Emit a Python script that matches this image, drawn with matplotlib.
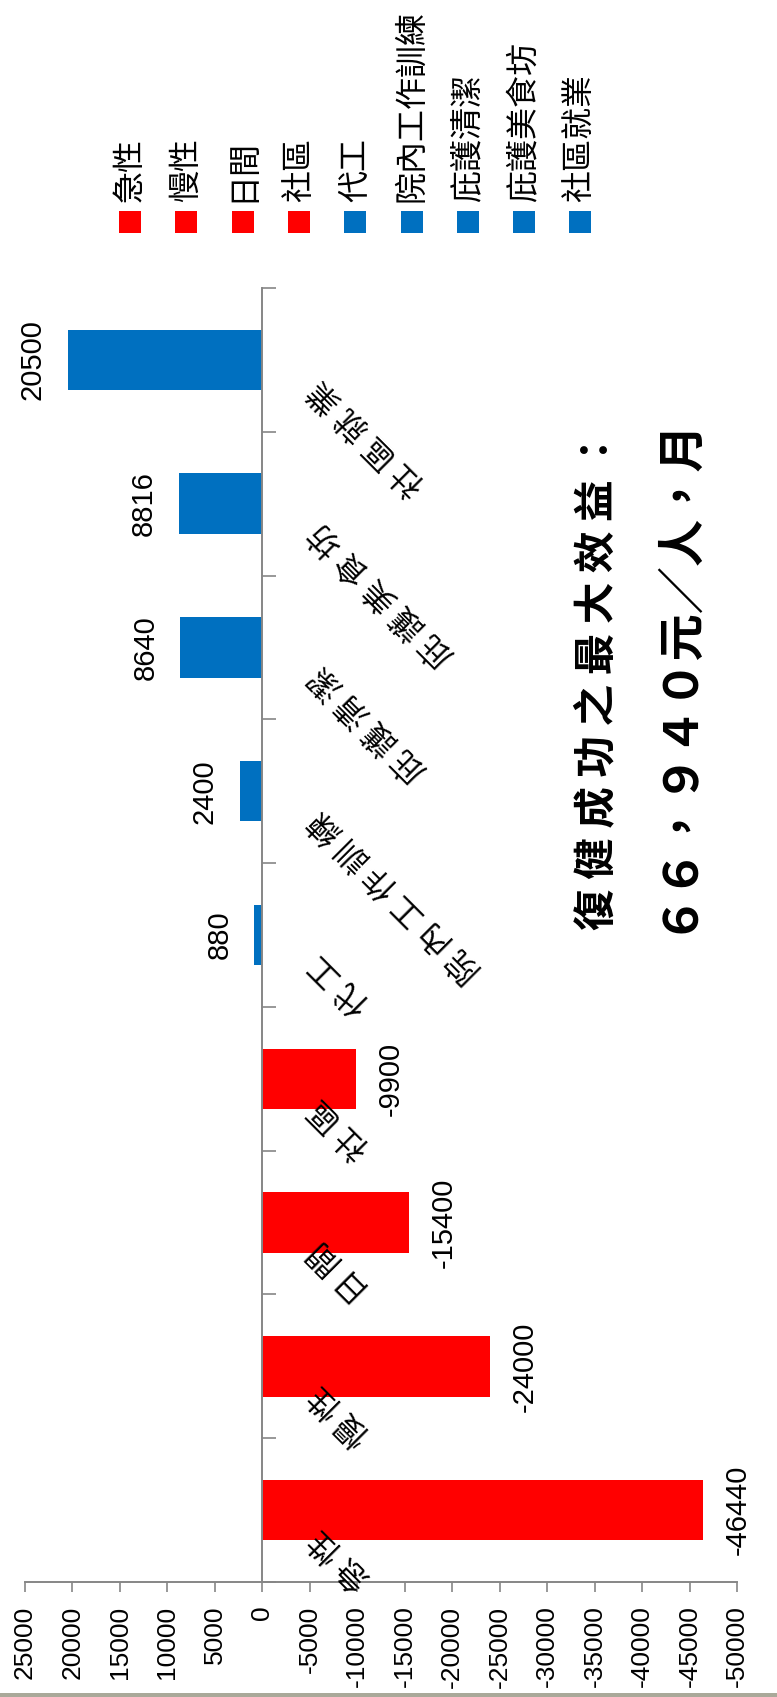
import matplotlib
matplotlib.use('Agg')
import matplotlib.pyplot as plt
from matplotlib.transforms import ScaledTranslation
from matplotlib.patches import Rectangle

# ---------------- data ----------------
categories = ['急性', '慢性', '日間', '社區', '代工',
              '院內工作訓練', '庇護清潔', '庇護美食坊', '社區就業']
values = [-46440, -24000, -15400, -9900, 880, 2400, 8640, 8816, 20500]
value_ticks = [25000, 20000, 15000, 10000, 5000, 0, -5000, -10000, -15000,
               -20000, -25000, -30000, -35000, -40000, -45000, -50000]
title_line1 = '復健成功之最大效益：'
title_line2 = '６６，９４０元／人，月'

# ---------------- style ----------------
RED, BLUE = '#FF0000', '#0070C0'
bar_colors = [RED] * 4 + [BLUE] * 5
GREY = '#868686'
num_font = ['Liberation Sans', 'DejaVu Sans']
cjk_font = ['Noto Sans CJK TC', 'DejaVu Sans']

plt.rcParams['font.family'] = cjk_font
plt.rcParams['axes.unicode_minus'] = False

W, H, DPI = 777, 1697, 100
fig = plt.figure(figsize=(W / DPI, H / DPI), dpi=DPI)
fig.patch.set_facecolor('white')


def px(x, y):
    """pixel (from top-left) -> inches for fig.dpi_scale_trans"""
    return x / DPI, (H - y) / DPI


ax = fig.add_axes([25 / W, 115 / H, 712 / W, 1294 / H])
ypos = list(range(len(categories)))
ax.barh(ypos, values, height=0.42, color=bar_colors, zorder=2)
ax.set_xlim(value_ticks[0], value_ticks[-1])
ax.set_ylim(-0.5, len(categories) - 0.5)

# value axis (horizontal, bottom)
ax.set_xticks(value_ticks)
ax.set_xticklabels([str(v) for v in value_ticks], rotation=90,
                   fontsize=19, family=num_font)
ax.tick_params(axis='x', direction='out', length=7, width=1.2,
               color=GREY, pad=10)

# category axis (vertical, at zero)
ax.spines['left'].set_position(('data', 0))
for s in ['top', 'right']:
    ax.spines[s].set_visible(False)
for s in ['left', 'bottom']:
    ax.spines[s].set_color(GREY)
    ax.spines[s].set_linewidth(1.4)
ax.set_yticks([i - 0.5 for i in range(len(categories) + 1)])
ax.set_yticklabels([])
ax.tick_params(axis='y', direction='in', length=10, width=1.2, color=GREY)

# value labels
for yi, v in zip(ypos, values):
    off = -25 if v > 0 else 25
    ax.annotate(str(v), xy=(v, yi), xytext=(off, 0),
                textcoords='offset points', rotation=90,
                ha='center', va='center', fontsize=21, family=num_font)

# category labels (diagonal)
lab_tr = ax.transData + ScaledTranslation(52 / DPI, -24 / DPI, fig.dpi_scale_trans)
for yi, c in zip(ypos, categories):
    ax.text(0, yi, ' '.join(c), transform=lab_tr, rotation=135,
            rotation_mode='anchor', ha='right', va='center',
            fontsize=23, family=cjk_font)

# legend (rotated layout)
for i, (c, col) in enumerate(zip(categories, bar_colors)):
    cx = 130 + i * 56.3
    x0, y0 = px(cx - 11, 233)
    fig.add_artist(Rectangle((x0, y0), 22 / DPI, 22 / DPI,
                             transform=fig.dpi_scale_trans,
                             facecolor=col, edgecolor='none'))
    tx, ty = px(cx, 202)
    fig.text(tx, ty, c, rotation=90, ha='center', va='bottom',
             fontsize=23, family=cjk_font, transform=fig.dpi_scale_trans)

# annotation text
tx, ty = px(598, 679)
fig.text(tx, ty, ' '.join(title_line1), rotation=90, ha='center', va='center',
         fontsize=30, fontweight='bold', family=cjk_font,
         transform=fig.dpi_scale_trans)
tx, ty = px(674, 673)
fig.text(tx, ty, title_line2, rotation=90, ha='center', va='center',
         fontsize=34, fontweight='bold', family=cjk_font,
         transform=fig.dpi_scale_trans)

# bottom frame line
fig.add_artist(Rectangle((0, 0), 1, 4 / H, transform=fig.transFigure,
                         facecolor='#aaa99a', edgecolor='none'))

fig.savefig('out.png', dpi=DPI)
